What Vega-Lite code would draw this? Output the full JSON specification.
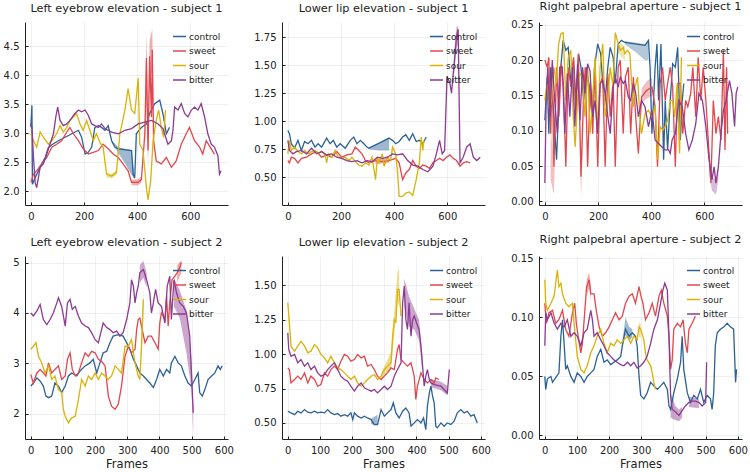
{
"$schema": "https://vega.github.io/schema/vega-lite/v6.json",
"background": "white",
"padding": {"left": 3, "top": 0, "right": 5, "bottom": 2},
"config": {
 "view": {"stroke": null},
 "font": "DejaVu Sans",
 "axis": {"domainColor": "#222", "domainWidth": 1, "tickColor": "#222", "tickSize": -3, "labelPadding": 9, "gridColor": "#000", "gridOpacity": 0.1, "gridWidth": 0.6, "labelFont": "DejaVu Sans", "labelFontSize": 10, "labelColor": "#222", "titleFont": "DejaVu Sans", "titleFontSize": 11.5, "titleFontWeight": "normal", "titleColor": "#222", "titlePadding": 3},
 "title": {"font": "DejaVu Sans", "fontSize": 11.3, "fontWeight": "normal", "color": "#222", "offset": 8},
 "legend": {"orient": "top-right", "offset": 7, "labelFont": "DejaVu Sans", "labelFontSize": 9, "labelColor": "#222", "symbolType": "stroke", "symbolSize": 170, "symbolStrokeWidth": 1.5, "rowPadding": 1.5, "padding": 0, "labelOffset": 2}
},
"datasets": {
"p1": [
{"c":"control","x":0,"y":3.1},{"c":"control","x":4,"y":3.48},{"c":"control","x":6,"y":2.12},{"c":"control","x":16,"y":2.23},{"c":"control","x":41,"y":2.47},{"c":"control","x":54,"y":2.58},{"c":"control","x":66,"y":2.75},{"c":"control","x":79,"y":2.8},{"c":"control","x":104,"y":2.87},{"c":"control","x":129,"y":2.93},{"c":"control","x":154,"y":2.99},{"c":"control","x":179,"y":3.05},{"c":"control","x":191,"y":2.93},{"c":"control","x":204,"y":2.64},{"c":"control","x":216,"y":2.67},{"c":"control","x":229,"y":2.76},{"c":"control","x":241,"y":3.1},{"c":"control","x":254,"y":3.13},{"c":"control","x":266,"y":3.1},{"c":"control","x":279,"y":3.05},{"c":"control","x":291,"y":3.13},{"c":"control","x":304,"y":2.87},{"c":"control","x":316,"y":2.76},{"c":"control","x":329,"y":2.73},{"c":"control","x":379,"y":2.7},{"c":"control","x":385,"y":2.29},{"c":"control","x":391,"y":2.23},{"c":"control","x":397,"y":2.99},{"c":"control","x":416,"y":3.1},{"c":"control","x":435,"y":3.16},{"c":"control","x":447,"y":3.34},{"c":"control","x":466,"y":3.51},{"c":"control","x":485,"y":3.57},{"c":"control","x":497,"y":3.34},{"c":"control","x":510,"y":2.99},{"c":"control","x":522,"y":3.1},
{"c":"sweet","x":0,"y":2.15},{"c":"sweet","x":10,"y":2.29},{"c":"sweet","x":22,"y":2.35},{"c":"sweet","x":41,"y":2.47},{"c":"sweet","x":60,"y":2.58},{"c":"sweet","x":79,"y":2.76},{"c":"sweet","x":97,"y":2.81},{"c":"sweet","x":116,"y":2.87},{"c":"sweet","x":135,"y":3.02},{"c":"sweet","x":147,"y":3.1},{"c":"sweet","x":160,"y":2.99},{"c":"sweet","x":179,"y":2.87},{"c":"sweet","x":197,"y":2.73},{"c":"sweet","x":216,"y":2.64},{"c":"sweet","x":235,"y":2.67},{"c":"sweet","x":254,"y":2.7},{"c":"sweet","x":272,"y":2.81},{"c":"sweet","x":291,"y":2.73},{"c":"sweet","x":310,"y":2.64},{"c":"sweet","x":329,"y":2.58},{"c":"sweet","x":347,"y":2.47},{"c":"sweet","x":366,"y":2.35},{"c":"sweet","x":379,"y":2.15},{"c":"sweet","x":404,"y":2.15},{"c":"sweet","x":416,"y":2.2},{"c":"sweet","x":429,"y":2.99},{"c":"sweet","x":435,"y":4.3},{"c":"sweet","x":441,"y":2.7},{"c":"sweet","x":447,"y":4.33},{"c":"sweet","x":454,"y":3.28},{"c":"sweet","x":457,"y":4.44},{"c":"sweet","x":462,"y":2.87},{"c":"sweet","x":472,"y":2.52},{"c":"sweet","x":491,"y":2.47},{"c":"sweet","x":510,"y":2.58},{"c":"sweet","x":529,"y":2.41},{"c":"sweet","x":547,"y":2.52},{"c":"sweet","x":566,"y":2.81},{"c":"sweet","x":585,"y":2.99},{"c":"sweet","x":597,"y":3.1},{"c":"sweet","x":616,"y":2.87},{"c":"sweet","x":635,"y":2.76},{"c":"sweet","x":647,"y":2.64},{"c":"sweet","x":660,"y":2.87},{"c":"sweet","x":679,"y":2.73},{"c":"sweet","x":691,"y":2.64},
{"c":"sour","x":0,"y":2.99},{"c":"sour","x":10,"y":2.87},{"c":"sour","x":22,"y":2.76},{"c":"sour","x":35,"y":3.02},{"c":"sour","x":47,"y":2.93},{"c":"sour","x":66,"y":2.81},{"c":"sour","x":79,"y":2.87},{"c":"sour","x":97,"y":2.99},{"c":"sour","x":110,"y":3.13},{"c":"sour","x":122,"y":3.02},{"c":"sour","x":135,"y":3.1},{"c":"sour","x":147,"y":3.22},{"c":"sour","x":160,"y":3.28},{"c":"sour","x":172,"y":3.34},{"c":"sour","x":185,"y":3.16},{"c":"sour","x":197,"y":3.05},{"c":"sour","x":210,"y":3.22},{"c":"sour","x":222,"y":3.05},{"c":"sour","x":235,"y":2.87},{"c":"sour","x":247,"y":2.99},{"c":"sour","x":260,"y":2.84},{"c":"sour","x":272,"y":2.76},{"c":"sour","x":285,"y":2.29},{"c":"sour","x":304,"y":2.26},{"c":"sour","x":322,"y":2.32},{"c":"sour","x":335,"y":2.99},{"c":"sour","x":354,"y":3.4},{"c":"sour","x":366,"y":3.77},{"c":"sour","x":379,"y":3.4},{"c":"sour","x":391,"y":3.34},{"c":"sour","x":404,"y":3.95},{"c":"sour","x":410,"y":2.81},{"c":"sour","x":422,"y":2.7},{"c":"sour","x":435,"y":2.06},{"c":"sour","x":441,"y":1.85},{"c":"sour","x":451,"y":2.17},{"c":"sour","x":460,"y":2.87},{"c":"sour","x":472,"y":3.22},{"c":"sour","x":481,"y":3.4},{"c":"sour","x":491,"y":3.1},{"c":"sour","x":500,"y":2.93},{"c":"sour","x":507,"y":3.4},
{"c":"bitter","x":0,"y":3.16},{"c":"bitter","x":4,"y":3.1},{"c":"bitter","x":10,"y":2.58},{"c":"bitter","x":16,"y":2.15},{"c":"bitter","x":22,"y":2.06},{"c":"bitter","x":35,"y":2.41},{"c":"bitter","x":47,"y":2.47},{"c":"bitter","x":60,"y":2.64},{"c":"bitter","x":72,"y":2.81},{"c":"bitter","x":85,"y":2.99},{"c":"bitter","x":94,"y":3.28},{"c":"bitter","x":101,"y":3.45},{"c":"bitter","x":110,"y":3.22},{"c":"bitter","x":122,"y":3.13},{"c":"bitter","x":135,"y":3.16},{"c":"bitter","x":147,"y":3.22},{"c":"bitter","x":166,"y":3.34},{"c":"bitter","x":179,"y":3.4},{"c":"bitter","x":191,"y":3.37},{"c":"bitter","x":204,"y":3.4},{"c":"bitter","x":216,"y":3.31},{"c":"bitter","x":229,"y":3.16},{"c":"bitter","x":241,"y":3.13},{"c":"bitter","x":254,"y":3.1},{"c":"bitter","x":266,"y":3.16},{"c":"bitter","x":279,"y":3.08},{"c":"bitter","x":304,"y":3.02},{"c":"bitter","x":329,"y":2.99},{"c":"bitter","x":354,"y":3.05},{"c":"bitter","x":379,"y":3.08},{"c":"bitter","x":404,"y":3.16},{"c":"bitter","x":429,"y":3.19},{"c":"bitter","x":454,"y":3.22},{"c":"bitter","x":479,"y":3.16},{"c":"bitter","x":497,"y":3.08},{"c":"bitter","x":516,"y":2.81},{"c":"bitter","x":529,"y":2.87},{"c":"bitter","x":535,"y":3.05},{"c":"bitter","x":541,"y":3.45},{"c":"bitter","x":554,"y":3.4},{"c":"bitter","x":566,"y":3.51},{"c":"bitter","x":579,"y":3.34},{"c":"bitter","x":591,"y":3.28},{"c":"bitter","x":604,"y":3.4},{"c":"bitter","x":616,"y":3.45},{"c":"bitter","x":629,"y":3.4},{"c":"bitter","x":641,"y":3.51},{"c":"bitter","x":654,"y":3.28},{"c":"bitter","x":666,"y":2.99},{"c":"bitter","x":679,"y":2.81},{"c":"bitter","x":691,"y":2.76},{"c":"bitter","x":704,"y":2.61},{"c":"bitter","x":710,"y":2.29},{"c":"bitter","x":716,"y":2.35}
],
"r1": [
{"c":"control","g":"a","x":304,"lo":2.85,"hi":2.88},{"c":"control","g":"a","x":329,"lo":2.66,"hi":2.76},{"c":"control","g":"a","x":354,"lo":2.48,"hi":2.73},{"c":"control","g":"a","x":379,"lo":2.28,"hi":2.71},{"c":"control","g":"a","x":391,"lo":2.2,"hi":2.26},
{"c":"sweet","g":"b","x":379,"lo":2.1,"hi":2.2},{"c":"sweet","g":"b","x":404,"lo":2.1,"hi":2.2},{"c":"sweet","g":"b","x":416,"lo":2.15,"hi":2.25},
{"c":"sweet","g":"c","x":429,"lo":2.7,"hi":3.2},{"c":"sweet","g":"c","x":435,"lo":3.6,"hi":4.75},{"c":"sweet","g":"c","x":441,"lo":2.4,"hi":3.1},{"c":"sweet","g":"c","x":447,"lo":3.9,"hi":4.6},{"c":"sweet","g":"c","x":457,"lo":4.1,"hi":4.8},{"c":"sweet","g":"c","x":462,"lo":2.6,"hi":3.1},
{"c":"sour","g":"d","x":285,"lo":2.24,"hi":2.32},{"c":"sour","g":"d","x":304,"lo":2.22,"hi":2.3},{"c":"sour","g":"d","x":322,"lo":2.28,"hi":2.36}
],
"p2": [
{"c":"control","x":0,"y":0.92},{"c":"control","x":6,"y":0.89},{"c":"control","x":13,"y":0.8},{"c":"control","x":25,"y":0.76},{"c":"control","x":38,"y":0.83},{"c":"control","x":51,"y":0.74},{"c":"control","x":63,"y":0.82},{"c":"control","x":76,"y":0.8},{"c":"control","x":89,"y":0.83},{"c":"control","x":102,"y":0.77},{"c":"control","x":114,"y":0.8},{"c":"control","x":127,"y":0.77},{"c":"control","x":146,"y":0.85},{"c":"control","x":159,"y":0.8},{"c":"control","x":171,"y":0.83},{"c":"control","x":184,"y":0.77},{"c":"control","x":197,"y":0.8},{"c":"control","x":216,"y":0.76},{"c":"control","x":235,"y":0.83},{"c":"control","x":248,"y":0.86},{"c":"control","x":260,"y":0.8},{"c":"control","x":273,"y":0.83},{"c":"control","x":286,"y":0.8},{"c":"control","x":298,"y":0.77},{"c":"control","x":305,"y":0.76},{"c":"control","x":381,"y":0.85},{"c":"control","x":394,"y":0.83},{"c":"control","x":406,"y":0.8},{"c":"control","x":419,"y":0.82},{"c":"control","x":432,"y":0.86},{"c":"control","x":444,"y":0.88},{"c":"control","x":457,"y":0.83},{"c":"control","x":470,"y":0.89},{"c":"control","x":483,"y":0.82},{"c":"control","x":495,"y":0.83},{"c":"control","x":508,"y":0.8},{"c":"control","x":521,"y":0.86},
{"c":"sweet","x":0,"y":0.65},{"c":"sweet","x":6,"y":0.63},{"c":"sweet","x":13,"y":0.68},{"c":"sweet","x":25,"y":0.67},{"c":"sweet","x":38,"y":0.63},{"c":"sweet","x":51,"y":0.67},{"c":"sweet","x":70,"y":0.68},{"c":"sweet","x":89,"y":0.71},{"c":"sweet","x":108,"y":0.73},{"c":"sweet","x":127,"y":0.68},{"c":"sweet","x":146,"y":0.7},{"c":"sweet","x":165,"y":0.68},{"c":"sweet","x":184,"y":0.73},{"c":"sweet","x":203,"y":0.68},{"c":"sweet","x":222,"y":0.7},{"c":"sweet","x":241,"y":0.71},{"c":"sweet","x":254,"y":0.77},{"c":"sweet","x":267,"y":0.74},{"c":"sweet","x":279,"y":0.71},{"c":"sweet","x":292,"y":0.65},{"c":"sweet","x":305,"y":0.63},{"c":"sweet","x":330,"y":0.65},{"c":"sweet","x":356,"y":0.64},{"c":"sweet","x":381,"y":0.65},{"c":"sweet","x":406,"y":0.67},{"c":"sweet","x":419,"y":0.63},{"c":"sweet","x":432,"y":0.48},{"c":"sweet","x":444,"y":0.54},{"c":"sweet","x":457,"y":0.57},{"c":"sweet","x":470,"y":0.65},{"c":"sweet","x":483,"y":0.6},{"c":"sweet","x":495,"y":0.58},{"c":"sweet","x":508,"y":0.61},{"c":"sweet","x":521,"y":0.6},{"c":"sweet","x":533,"y":0.58},{"c":"sweet","x":546,"y":0.63},{"c":"sweet","x":559,"y":0.65},{"c":"sweet","x":571,"y":0.67},{"c":"sweet","x":584,"y":0.65},{"c":"sweet","x":597,"y":0.68},{"c":"sweet","x":610,"y":0.7},{"c":"sweet","x":622,"y":0.67},{"c":"sweet","x":635,"y":0.65},{"c":"sweet","x":648,"y":0.6},{"c":"sweet","x":660,"y":0.63},{"c":"sweet","x":673,"y":0.64},{"c":"sweet","x":686,"y":0.63},
{"c":"sour","x":0,"y":0.71},{"c":"sour","x":6,"y":0.83},{"c":"sour","x":13,"y":0.74},{"c":"sour","x":25,"y":0.77},{"c":"sour","x":38,"y":0.73},{"c":"sour","x":51,"y":0.71},{"c":"sour","x":63,"y":0.74},{"c":"sour","x":76,"y":0.71},{"c":"sour","x":89,"y":0.73},{"c":"sour","x":102,"y":0.74},{"c":"sour","x":114,"y":0.71},{"c":"sour","x":127,"y":0.73},{"c":"sour","x":140,"y":0.71},{"c":"sour","x":146,"y":0.63},{"c":"sour","x":152,"y":0.71},{"c":"sour","x":165,"y":0.68},{"c":"sour","x":178,"y":0.74},{"c":"sour","x":190,"y":0.68},{"c":"sour","x":203,"y":0.67},{"c":"sour","x":216,"y":0.68},{"c":"sour","x":229,"y":0.65},{"c":"sour","x":241,"y":0.68},{"c":"sour","x":254,"y":0.64},{"c":"sour","x":267,"y":0.61},{"c":"sour","x":279,"y":0.6},{"c":"sour","x":292,"y":0.63},{"c":"sour","x":305,"y":0.61},{"c":"sour","x":317,"y":0.68},{"c":"sour","x":330,"y":0.48},{"c":"sour","x":337,"y":0.68},{"c":"sour","x":343,"y":0.63},{"c":"sour","x":356,"y":0.71},{"c":"sour","x":362,"y":0.6},{"c":"sour","x":375,"y":0.68},{"c":"sour","x":387,"y":0.65},{"c":"sour","x":394,"y":0.77},{"c":"sour","x":406,"y":0.71},{"c":"sour","x":413,"y":0.54},{"c":"sour","x":419,"y":0.33},{"c":"sour","x":432,"y":0.33},{"c":"sour","x":444,"y":0.36},{"c":"sour","x":457,"y":0.37},{"c":"sour","x":470,"y":0.34},{"c":"sour","x":483,"y":0.48},{"c":"sour","x":495,"y":0.63},{"c":"sour","x":502,"y":0.86},{"c":"sour","x":508,"y":0.74},{"c":"sour","x":512,"y":0.83},
{"c":"bitter","x":0,"y":0.83},{"c":"bitter","x":6,"y":0.74},{"c":"bitter","x":19,"y":0.71},{"c":"bitter","x":32,"y":0.73},{"c":"bitter","x":51,"y":0.74},{"c":"bitter","x":70,"y":0.71},{"c":"bitter","x":89,"y":0.76},{"c":"bitter","x":108,"y":0.71},{"c":"bitter","x":127,"y":0.73},{"c":"bitter","x":146,"y":0.7},{"c":"bitter","x":165,"y":0.71},{"c":"bitter","x":184,"y":0.68},{"c":"bitter","x":203,"y":0.67},{"c":"bitter","x":222,"y":0.65},{"c":"bitter","x":241,"y":0.64},{"c":"bitter","x":260,"y":0.65},{"c":"bitter","x":279,"y":0.63},{"c":"bitter","x":298,"y":0.65},{"c":"bitter","x":317,"y":0.64},{"c":"bitter","x":337,"y":0.68},{"c":"bitter","x":356,"y":0.67},{"c":"bitter","x":375,"y":0.68},{"c":"bitter","x":394,"y":0.71},{"c":"bitter","x":413,"y":0.7},{"c":"bitter","x":432,"y":0.71},{"c":"bitter","x":451,"y":0.65},{"c":"bitter","x":470,"y":0.61},{"c":"bitter","x":489,"y":0.6},{"c":"bitter","x":508,"y":0.57},{"c":"bitter","x":527,"y":0.55},{"c":"bitter","x":546,"y":0.6},{"c":"bitter","x":559,"y":0.71},{"c":"bitter","x":571,"y":0.83},{"c":"bitter","x":581,"y":0.71},{"c":"bitter","x":590,"y":0.74},{"c":"bitter","x":599,"y":1.4},{"c":"bitter","x":610,"y":1.34},{"c":"bitter","x":616,"y":1.25},{"c":"bitter","x":625,"y":1.49},{"c":"bitter","x":635,"y":1.76},{"c":"bitter","x":641,"y":1.82},{"c":"bitter","x":648,"y":0.63},{"c":"bitter","x":660,"y":0.68},{"c":"bitter","x":673,"y":0.77},{"c":"bitter","x":686,"y":0.8},{"c":"bitter","x":698,"y":0.68},{"c":"bitter","x":711,"y":0.65},{"c":"bitter","x":724,"y":0.68}
],
"r2": [
{"c":"control","g":"a","x":305,"lo":0.75,"hi":0.77},{"c":"control","g":"a","x":343,"lo":0.74,"hi":0.81},{"c":"control","g":"a","x":381,"lo":0.74,"hi":0.86},
{"c":"sweet","g":"b","x":330,"lo":0.62,"hi":0.67},{"c":"sweet","g":"b","x":381,"lo":0.63,"hi":0.67},
{"c":"bitter","g":"c","x":625,"lo":1.4,"hi":1.6},{"c":"bitter","g":"c","x":635,"lo":1.65,"hi":1.84},{"c":"bitter","g":"c","x":641,"lo":1.7,"hi":1.85}
],
"p3": [
{"c":"control","x":0,"y":0.115},{"c":"control","x":9,"y":0.176},{"c":"control","x":15,"y":0.096},{"c":"control","x":22,"y":0.19},{"c":"control","x":34,"y":0.12},{"c":"control","x":44,"y":0.059},{"c":"control","x":53,"y":0.143},{"c":"control","x":60,"y":0.19},{"c":"control","x":69,"y":0.228},{"c":"control","x":79,"y":0.214},{"c":"control","x":88,"y":0.218},{"c":"control","x":98,"y":0.167},{"c":"control","x":108,"y":0.2},{"c":"control","x":117,"y":0.143},{"c":"control","x":127,"y":0.209},{"c":"control","x":136,"y":0.19},{"c":"control","x":146,"y":0.143},{"c":"control","x":155,"y":0.19},{"c":"control","x":168,"y":0.162},{"c":"control","x":178,"y":0.12},{"c":"control","x":187,"y":0.19},{"c":"control","x":199,"y":0.223},{"c":"control","x":210,"y":0.209},{"c":"control","x":218,"y":0.167},{"c":"control","x":227,"y":0.143},{"c":"control","x":237,"y":0.19},{"c":"control","x":246,"y":0.218},{"c":"control","x":257,"y":0.204},{"c":"control","x":265,"y":0.167},{"c":"control","x":276,"y":0.223},{"c":"control","x":288,"y":0.228},{"c":"control","x":301,"y":0.225},{"c":"control","x":377,"y":0.221},{"c":"control","x":390,"y":0.228},{"c":"control","x":396,"y":0.19},{"c":"control","x":403,"y":0.096},{"c":"control","x":409,"y":0.143},{"c":"control","x":415,"y":0.19},{"c":"control","x":422,"y":0.223},{"c":"control","x":428,"y":0.143},{"c":"control","x":437,"y":0.223},{"c":"control","x":447,"y":0.059},{"c":"control","x":453,"y":0.143},{"c":"control","x":462,"y":0.073},{"c":"control","x":472,"y":0.143},{"c":"control","x":481,"y":0.195},{"c":"control","x":491,"y":0.19},{"c":"control","x":500,"y":0.218},{"c":"control","x":510,"y":0.087},{"c":"control","x":517,"y":0.143},{"c":"control","x":523,"y":0.167},
{"c":"sweet","x":0,"y":0.2},{"c":"sweet","x":9,"y":0.19},{"c":"sweet","x":15,"y":0.204},{"c":"sweet","x":22,"y":0.096},{"c":"sweet","x":28,"y":0.19},{"c":"sweet","x":34,"y":0.049},{"c":"sweet","x":44,"y":0.19},{"c":"sweet","x":53,"y":0.12},{"c":"sweet","x":62,"y":0.195},{"c":"sweet","x":70,"y":0.162},{"c":"sweet","x":79,"y":0.049},{"c":"sweet","x":88,"y":0.19},{"c":"sweet","x":98,"y":0.162},{"c":"sweet","x":108,"y":0.204},{"c":"sweet","x":117,"y":0.12},{"c":"sweet","x":126,"y":0.209},{"c":"sweet","x":136,"y":0.035},{"c":"sweet","x":145,"y":0.143},{"c":"sweet","x":152,"y":0.19},{"c":"sweet","x":161,"y":0.049},{"c":"sweet","x":171,"y":0.167},{"c":"sweet","x":180,"y":0.096},{"c":"sweet","x":189,"y":0.19},{"c":"sweet","x":199,"y":0.049},{"c":"sweet","x":208,"y":0.167},{"c":"sweet","x":218,"y":0.176},{"c":"sweet","x":227,"y":0.049},{"c":"sweet","x":237,"y":0.181},{"c":"sweet","x":246,"y":0.12},{"c":"sweet","x":257,"y":0.171},{"c":"sweet","x":265,"y":0.049},{"c":"sweet","x":276,"y":0.19},{"c":"sweet","x":284,"y":0.2},{"c":"sweet","x":295,"y":0.096},{"c":"sweet","x":303,"y":0.176},{"c":"sweet","x":314,"y":0.19},{"c":"sweet","x":323,"y":0.096},{"c":"sweet","x":333,"y":0.176},{"c":"sweet","x":342,"y":0.12},{"c":"sweet","x":352,"y":0.068},{"c":"sweet","x":364,"y":0.148},{"c":"sweet","x":383,"y":0.157},{"c":"sweet","x":403,"y":0.162},{"c":"sweet","x":415,"y":0.134},{"c":"sweet","x":424,"y":0.049},{"c":"sweet","x":434,"y":0.167},{"c":"sweet","x":443,"y":0.19},{"c":"sweet","x":453,"y":0.143},{"c":"sweet","x":462,"y":0.167},{"c":"sweet","x":472,"y":0.19},{"c":"sweet","x":481,"y":0.162},{"c":"sweet","x":491,"y":0.049},{"c":"sweet","x":500,"y":0.167},{"c":"sweet","x":510,"y":0.167},{"c":"sweet","x":519,"y":0.096},{"c":"sweet","x":530,"y":0.143},{"c":"sweet","x":538,"y":0.134},{"c":"sweet","x":549,"y":0.153},{"c":"sweet","x":557,"y":0.19},{"c":"sweet","x":568,"y":0.12},{"c":"sweet","x":577,"y":0.204},{"c":"sweet","x":587,"y":0.143},{"c":"sweet","x":596,"y":0.19},{"c":"sweet","x":606,"y":0.143},{"c":"sweet","x":615,"y":0.087},{"c":"sweet","x":625,"y":0.026},{"c":"sweet","x":634,"y":0.143},{"c":"sweet","x":644,"y":0.096},{"c":"sweet","x":653,"y":0.12},{"c":"sweet","x":663,"y":0.087},{"c":"sweet","x":672,"y":0.214},{"c":"sweet","x":678,"y":0.073},{"c":"sweet","x":684,"y":0.19},{"c":"sweet","x":688,"y":0.096},
{"c":"sour","x":0,"y":0.143},{"c":"sour","x":9,"y":0.167},{"c":"sour","x":18,"y":0.129},{"c":"sour","x":25,"y":0.143},{"c":"sour","x":34,"y":0.19},{"c":"sour","x":43,"y":0.167},{"c":"sour","x":52,"y":0.223},{"c":"sour","x":60,"y":0.237},{"c":"sour","x":69,"y":0.239},{"c":"sour","x":79,"y":0.143},{"c":"sour","x":88,"y":0.204},{"c":"sour","x":98,"y":0.214},{"c":"sour","x":107,"y":0.12},{"c":"sour","x":114,"y":0.077},{"c":"sour","x":123,"y":0.143},{"c":"sour","x":132,"y":0.181},{"c":"sour","x":142,"y":0.176},{"c":"sour","x":151,"y":0.12},{"c":"sour","x":161,"y":0.19},{"c":"sour","x":170,"y":0.096},{"c":"sour","x":180,"y":0.143},{"c":"sour","x":189,"y":0.204},{"c":"sour","x":199,"y":0.096},{"c":"sour","x":208,"y":0.19},{"c":"sour","x":218,"y":0.223},{"c":"sour","x":227,"y":0.12},{"c":"sour","x":237,"y":0.143},{"c":"sour","x":246,"y":0.19},{"c":"sour","x":257,"y":0.162},{"c":"sour","x":265,"y":0.239},{"c":"sour","x":276,"y":0.223},{"c":"sour","x":284,"y":0.214},{"c":"sour","x":295,"y":0.218},{"c":"sour","x":301,"y":0.209},{"c":"sour","x":310,"y":0.214},{"c":"sour","x":320,"y":0.209},{"c":"sour","x":326,"y":0.171},{"c":"sour","x":333,"y":0.134},{"c":"sour","x":339,"y":0.162},{"c":"sour","x":349,"y":0.176},{"c":"sour","x":358,"y":0.12},{"c":"sour","x":364,"y":0.096},{"c":"sour","x":377,"y":0.124},{"c":"sour","x":390,"y":0.129},{"c":"sour","x":403,"y":0.12},{"c":"sour","x":415,"y":0.134},{"c":"sour","x":425,"y":0.059},{"c":"sour","x":434,"y":0.106},{"c":"sour","x":443,"y":0.101},{"c":"sour","x":453,"y":0.106},{"c":"sour","x":462,"y":0.115},{"c":"sour","x":472,"y":0.143},{"c":"sour","x":481,"y":0.143},{"c":"sour","x":489,"y":0.12},{"c":"sour","x":498,"y":0.167},{"c":"sour","x":507,"y":0.068},{"c":"sour","x":514,"y":0.204},
{"c":"bitter","x":0,"y":0.026},{"c":"bitter","x":5,"y":0.143},{"c":"bitter","x":11,"y":0.19},{"c":"bitter","x":19,"y":0.12},{"c":"bitter","x":28,"y":0.2},{"c":"bitter","x":37,"y":0.143},{"c":"bitter","x":47,"y":0.096},{"c":"bitter","x":56,"y":0.19},{"c":"bitter","x":66,"y":0.19},{"c":"bitter","x":75,"y":0.096},{"c":"bitter","x":85,"y":0.181},{"c":"bitter","x":94,"y":0.12},{"c":"bitter","x":104,"y":0.19},{"c":"bitter","x":113,"y":0.106},{"c":"bitter","x":123,"y":0.195},{"c":"bitter","x":132,"y":0.115},{"c":"bitter","x":142,"y":0.19},{"c":"bitter","x":151,"y":0.153},{"c":"bitter","x":161,"y":0.195},{"c":"bitter","x":170,"y":0.185},{"c":"bitter","x":180,"y":0.12},{"c":"bitter","x":189,"y":0.143},{"c":"bitter","x":199,"y":0.096},{"c":"bitter","x":208,"y":0.167},{"c":"bitter","x":218,"y":0.171},{"c":"bitter","x":227,"y":0.153},{"c":"bitter","x":237,"y":0.12},{"c":"bitter","x":246,"y":0.096},{"c":"bitter","x":257,"y":0.162},{"c":"bitter","x":265,"y":0.176},{"c":"bitter","x":276,"y":0.162},{"c":"bitter","x":284,"y":0.176},{"c":"bitter","x":295,"y":0.167},{"c":"bitter","x":303,"y":0.171},{"c":"bitter","x":314,"y":0.148},{"c":"bitter","x":323,"y":0.143},{"c":"bitter","x":333,"y":0.167},{"c":"bitter","x":342,"y":0.153},{"c":"bitter","x":352,"y":0.12},{"c":"bitter","x":364,"y":0.143},{"c":"bitter","x":377,"y":0.134},{"c":"bitter","x":390,"y":0.106},{"c":"bitter","x":403,"y":0.129},{"c":"bitter","x":415,"y":0.087},{"c":"bitter","x":428,"y":0.082},{"c":"bitter","x":441,"y":0.077},{"c":"bitter","x":453,"y":0.073},{"c":"bitter","x":466,"y":0.073},{"c":"bitter","x":472,"y":0.068},{"c":"bitter","x":479,"y":0.087},{"c":"bitter","x":491,"y":0.096},{"c":"bitter","x":504,"y":0.143},{"c":"bitter","x":517,"y":0.134},{"c":"bitter","x":530,"y":0.096},{"c":"bitter","x":542,"y":0.073},{"c":"bitter","x":555,"y":0.087},{"c":"bitter","x":568,"y":0.11},{"c":"bitter","x":580,"y":0.153},{"c":"bitter","x":593,"y":0.143},{"c":"bitter","x":606,"y":0.106},{"c":"bitter","x":618,"y":0.059},{"c":"bitter","x":629,"y":0.031},{"c":"bitter","x":637,"y":0.049},{"c":"bitter","x":644,"y":0.026},{"c":"bitter","x":653,"y":0.049},{"c":"bitter","x":663,"y":0.096},{"c":"bitter","x":672,"y":0.129},{"c":"bitter","x":682,"y":0.143},{"c":"bitter","x":695,"y":0.171},{"c":"bitter","x":704,"y":0.153},{"c":"bitter","x":714,"y":0.106},{"c":"bitter","x":720,"y":0.153},{"c":"bitter","x":726,"y":0.162}
],
"r3": [
{"c":"control","g":"a","x":301,"lo":0.222,"hi":0.227},{"c":"control","g":"a","x":340,"lo":0.212,"hi":0.225},{"c":"control","g":"a","x":377,"lo":0.2,"hi":0.223},{"c":"control","g":"a","x":390,"lo":0.2,"hi":0.229},
{"c":"sweet","g":"b","x":364,"lo":0.14,"hi":0.16},{"c":"sweet","g":"b","x":383,"lo":0.145,"hi":0.17},{"c":"sweet","g":"b","x":403,"lo":0.15,"hi":0.175},
{"c":"sour","g":"c","x":276,"lo":0.21,"hi":0.226},{"c":"sour","g":"c","x":301,"lo":0.2,"hi":0.22},
{"c":"sweet","g":"d","x":22,"lo":0.03,"hi":0.1},{"c":"sweet","g":"d","x":34,"lo":0.01,"hi":0.06},{"c":"sweet","g":"d","x":44,"lo":0.15,"hi":0.19},
{"c":"sweet","g":"e","x":130,"lo":0.1,"hi":0.2},{"c":"sweet","g":"e","x":136,"lo":0.005,"hi":0.04},{"c":"sweet","g":"e","x":145,"lo":0.1,"hi":0.15},
{"c":"bitter","g":"f","x":618,"lo":0.04,"hi":0.06},{"c":"bitter","g":"f","x":629,"lo":0.015,"hi":0.035},{"c":"bitter","g":"f","x":644,"lo":0.01,"hi":0.03},{"c":"bitter","g":"f","x":653,"lo":0.03,"hi":0.05}
],
"p4": [
{"c":"control","x":0,"y":2.55},{"c":"control","x":8,"y":2.61},{"c":"control","x":19,"y":2.71},{"c":"control","x":29,"y":2.65},{"c":"control","x":39,"y":2.55},{"c":"control","x":47,"y":2.35},{"c":"control","x":55,"y":2.32},{"c":"control","x":65,"y":2.35},{"c":"control","x":75,"y":2.61},{"c":"control","x":86,"y":2.55},{"c":"control","x":96,"y":2.42},{"c":"control","x":107,"y":2.55},{"c":"control","x":117,"y":2.75},{"c":"control","x":127,"y":2.81},{"c":"control","x":143,"y":2.75},{"c":"control","x":153,"y":2.85},{"c":"control","x":169,"y":2.95},{"c":"control","x":184,"y":3.01},{"c":"control","x":194,"y":3.08},{"c":"control","x":205,"y":2.81},{"c":"control","x":215,"y":3.01},{"c":"control","x":225,"y":3.21},{"c":"control","x":236,"y":3.24},{"c":"control","x":246,"y":3.41},{"c":"control","x":256,"y":3.54},{"c":"control","x":272,"y":3.57},{"c":"control","x":287,"y":3.54},{"c":"control","x":298,"y":3.41},{"c":"control","x":308,"y":3.28},{"c":"control","x":319,"y":3.08},{"c":"control","x":329,"y":2.95},{"c":"control","x":339,"y":2.81},{"c":"control","x":350,"y":2.75},{"c":"control","x":360,"y":2.68},{"c":"control","x":370,"y":2.61},{"c":"control","x":381,"y":2.52},{"c":"control","x":391,"y":2.68},{"c":"control","x":401,"y":2.88},{"c":"control","x":412,"y":2.75},{"c":"control","x":422,"y":2.88},{"c":"control","x":432,"y":2.81},{"c":"control","x":437,"y":3.01},{"c":"control","x":448,"y":3.14},{"c":"control","x":458,"y":3.01},{"c":"control","x":468,"y":2.95},{"c":"control","x":479,"y":2.75},{"c":"control","x":489,"y":2.61},{"c":"control","x":499,"y":2.55},{"c":"control","x":510,"y":2.68},{"c":"control","x":520,"y":2.81},{"c":"control","x":525,"y":2.42},{"c":"control","x":533,"y":2.35},{"c":"control","x":541,"y":2.48},{"c":"control","x":551,"y":2.68},{"c":"control","x":562,"y":2.75},{"c":"control","x":572,"y":2.81},{"c":"control","x":582,"y":2.95},{"c":"control","x":589,"y":2.88},{"c":"control","x":595,"y":2.95},
{"c":"sweet","x":0,"y":2.78},{"c":"sweet","x":8,"y":2.61},{"c":"sweet","x":19,"y":2.81},{"c":"sweet","x":29,"y":2.88},{"c":"sweet","x":39,"y":2.81},{"c":"sweet","x":47,"y":2.75},{"c":"sweet","x":55,"y":3.01},{"c":"sweet","x":65,"y":2.81},{"c":"sweet","x":75,"y":2.88},{"c":"sweet","x":86,"y":2.95},{"c":"sweet","x":96,"y":2.68},{"c":"sweet","x":107,"y":2.75},{"c":"sweet","x":114,"y":3.08},{"c":"sweet","x":122,"y":3.21},{"c":"sweet","x":129,"y":2.88},{"c":"sweet","x":138,"y":2.75},{"c":"sweet","x":148,"y":2.81},{"c":"sweet","x":158,"y":3.01},{"c":"sweet","x":169,"y":3.21},{"c":"sweet","x":179,"y":3.14},{"c":"sweet","x":189,"y":3.24},{"c":"sweet","x":200,"y":3.21},{"c":"sweet","x":210,"y":3.08},{"c":"sweet","x":220,"y":3.04},{"c":"sweet","x":231,"y":2.95},{"c":"sweet","x":241,"y":2.35},{"c":"sweet","x":251,"y":2.15},{"c":"sweet","x":262,"y":2.09},{"c":"sweet","x":272,"y":2.19},{"c":"sweet","x":282,"y":2.55},{"c":"sweet","x":293,"y":3.14},{"c":"sweet","x":303,"y":3.34},{"c":"sweet","x":313,"y":3.21},{"c":"sweet","x":324,"y":3.28},{"c":"sweet","x":329,"y":3.67},{"c":"sweet","x":334,"y":3.87},{"c":"sweet","x":339,"y":3.9},{"c":"sweet","x":344,"y":3.74},{"c":"sweet","x":355,"y":3.41},{"c":"sweet","x":365,"y":3.54},{"c":"sweet","x":375,"y":3.54},{"c":"sweet","x":386,"y":3.41},{"c":"sweet","x":396,"y":3.28},{"c":"sweet","x":401,"y":3.8},{"c":"sweet","x":406,"y":4.0},{"c":"sweet","x":417,"y":3.87},{"c":"sweet","x":422,"y":4.33},{"c":"sweet","x":427,"y":3.74},{"c":"sweet","x":432,"y":4.2},{"c":"sweet","x":439,"y":4.66},{"c":"sweet","x":448,"y":4.73},{"c":"sweet","x":455,"y":4.8},{"c":"sweet","x":463,"y":4.9},{"c":"sweet","x":468,"y":5.0},
{"c":"sour","x":0,"y":3.28},{"c":"sour","x":8,"y":3.34},{"c":"sour","x":16,"y":3.41},{"c":"sour","x":24,"y":3.14},{"c":"sour","x":34,"y":3.01},{"c":"sour","x":44,"y":2.81},{"c":"sour","x":55,"y":2.95},{"c":"sour","x":65,"y":2.68},{"c":"sour","x":75,"y":2.75},{"c":"sour","x":86,"y":2.48},{"c":"sour","x":96,"y":2.42},{"c":"sour","x":101,"y":2.09},{"c":"sour","x":107,"y":1.95},{"c":"sour","x":117,"y":1.82},{"c":"sour","x":127,"y":1.92},{"c":"sour","x":138,"y":1.95},{"c":"sour","x":148,"y":2.28},{"c":"sour","x":158,"y":2.68},{"c":"sour","x":169,"y":2.55},{"c":"sour","x":179,"y":2.75},{"c":"sour","x":189,"y":2.68},{"c":"sour","x":200,"y":2.81},{"c":"sour","x":210,"y":2.68},{"c":"sour","x":220,"y":2.81},{"c":"sour","x":231,"y":2.75},{"c":"sour","x":241,"y":2.68},{"c":"sour","x":251,"y":2.75},{"c":"sour","x":262,"y":2.95},{"c":"sour","x":272,"y":2.88},{"c":"sour","x":282,"y":2.81},{"c":"sour","x":293,"y":3.34},{"c":"sour","x":303,"y":3.34},{"c":"sour","x":313,"y":3.47},{"c":"sour","x":324,"y":3.01},{"c":"sour","x":334,"y":2.75},{"c":"sour","x":339,"y":2.68},{"c":"sour","x":344,"y":3.34},{"c":"sour","x":350,"y":4.27},
{"c":"bitter","x":0,"y":4.0},{"c":"bitter","x":8,"y":3.94},{"c":"bitter","x":19,"y":4.04},{"c":"bitter","x":29,"y":4.17},{"c":"bitter","x":39,"y":3.87},{"c":"bitter","x":50,"y":3.77},{"c":"bitter","x":60,"y":3.87},{"c":"bitter","x":70,"y":4.0},{"c":"bitter","x":81,"y":4.2},{"c":"bitter","x":86,"y":4.3},{"c":"bitter","x":96,"y":4.13},{"c":"bitter","x":107,"y":3.74},{"c":"bitter","x":114,"y":4.2},{"c":"bitter","x":122,"y":4.27},{"c":"bitter","x":129,"y":4.07},{"c":"bitter","x":138,"y":4.13},{"c":"bitter","x":148,"y":3.94},{"c":"bitter","x":158,"y":3.8},{"c":"bitter","x":169,"y":3.74},{"c":"bitter","x":179,"y":3.71},{"c":"bitter","x":189,"y":3.61},{"c":"bitter","x":200,"y":3.47},{"c":"bitter","x":210,"y":3.41},{"c":"bitter","x":215,"y":3.54},{"c":"bitter","x":225,"y":3.8},{"c":"bitter","x":236,"y":3.71},{"c":"bitter","x":246,"y":3.67},{"c":"bitter","x":256,"y":3.61},{"c":"bitter","x":267,"y":3.64},{"c":"bitter","x":277,"y":3.54},{"c":"bitter","x":287,"y":3.61},{"c":"bitter","x":298,"y":3.87},{"c":"bitter","x":308,"y":4.2},{"c":"bitter","x":313,"y":4.66},{"c":"bitter","x":319,"y":4.53},{"c":"bitter","x":324,"y":4.2},{"c":"bitter","x":329,"y":4.4},{"c":"bitter","x":334,"y":4.53},{"c":"bitter","x":339,"y":4.8},{"c":"bitter","x":350,"y":4.86},{"c":"bitter","x":360,"y":4.66},{"c":"bitter","x":370,"y":4.4},{"c":"bitter","x":375,"y":4.0},{"c":"bitter","x":381,"y":4.2},{"c":"bitter","x":388,"y":4.47},{"c":"bitter","x":396,"y":4.2},{"c":"bitter","x":406,"y":4.13},{"c":"bitter","x":417,"y":3.8},{"c":"bitter","x":424,"y":4.53},{"c":"bitter","x":432,"y":4.73},{"c":"bitter","x":437,"y":3.87},{"c":"bitter","x":445,"y":4.66},{"c":"bitter","x":453,"y":4.4},{"c":"bitter","x":463,"y":4.2},{"c":"bitter","x":474,"y":4.13},{"c":"bitter","x":484,"y":4.0},{"c":"bitter","x":494,"y":3.54},{"c":"bitter","x":499,"y":2.88},{"c":"bitter","x":505,"y":2.02}
],
"r4": [
{"c":"bitter","g":"a","x":445,"lo":4.13,"hi":4.7},{"c":"bitter","g":"a","x":463,"lo":3.9,"hi":4.45},{"c":"bitter","g":"a","x":484,"lo":3.2,"hi":4.05},{"c":"bitter","g":"a","x":499,"lo":2.5,"hi":3.1},{"c":"bitter","g":"a","x":505,"lo":1.62,"hi":2.2},
{"c":"bitter","g":"b","x":339,"lo":4.6,"hi":4.95},{"c":"bitter","g":"b","x":350,"lo":4.7,"hi":5.03},{"c":"bitter","g":"b","x":360,"lo":4.5,"hi":4.8},
{"c":"sweet","g":"c","x":455,"lo":4.6,"hi":4.95},{"c":"sweet","g":"c","x":468,"lo":4.8,"hi":5.05},
{"c":"sour","g":"d","x":344,"lo":3.0,"hi":3.6},{"c":"sour","g":"d","x":350,"lo":3.9,"hi":4.5}
],
"p5": [
{"c":"control","x":0,"y":0.585},{"c":"control","x":10,"y":0.573},{"c":"control","x":21,"y":0.56},{"c":"control","x":31,"y":0.585},{"c":"control","x":41,"y":0.573},{"c":"control","x":52,"y":0.597},{"c":"control","x":62,"y":0.578},{"c":"control","x":72,"y":0.573},{"c":"control","x":83,"y":0.585},{"c":"control","x":93,"y":0.573},{"c":"control","x":103,"y":0.578},{"c":"control","x":114,"y":0.573},{"c":"control","x":124,"y":0.597},{"c":"control","x":134,"y":0.573},{"c":"control","x":145,"y":0.56},{"c":"control","x":155,"y":0.568},{"c":"control","x":165,"y":0.549},{"c":"control","x":176,"y":0.56},{"c":"control","x":186,"y":0.549},{"c":"control","x":196,"y":0.573},{"c":"control","x":202,"y":0.524},{"c":"control","x":207,"y":0.573},{"c":"control","x":217,"y":0.549},{"c":"control","x":228,"y":0.536},{"c":"control","x":238,"y":0.549},{"c":"control","x":248,"y":0.536},{"c":"control","x":259,"y":0.524},{"c":"control","x":269,"y":0.488},{"c":"control","x":279,"y":0.488},{"c":"control","x":290,"y":0.597},{"c":"control","x":300,"y":0.549},{"c":"control","x":310,"y":0.573},{"c":"control","x":321,"y":0.597},{"c":"control","x":328,"y":0.646},{"c":"control","x":336,"y":0.573},{"c":"control","x":346,"y":0.536},{"c":"control","x":357,"y":0.585},{"c":"control","x":367,"y":0.609},{"c":"control","x":377,"y":0.573},{"c":"control","x":383,"y":0.476},{"c":"control","x":393,"y":0.5},{"c":"control","x":403,"y":0.524},{"c":"control","x":414,"y":0.5},{"c":"control","x":422,"y":0.536},{"c":"control","x":429,"y":0.451},{"c":"control","x":434,"y":0.621},{"c":"control","x":440,"y":0.718},{"c":"control","x":445,"y":0.767},{"c":"control","x":450,"y":0.694},{"c":"control","x":455,"y":0.646},{"c":"control","x":460,"y":0.476},{"c":"control","x":465,"y":0.464},{"c":"control","x":476,"y":0.5},{"c":"control","x":486,"y":0.476},{"c":"control","x":496,"y":0.5},{"c":"control","x":507,"y":0.488},{"c":"control","x":517,"y":0.512},{"c":"control","x":527,"y":0.573},{"c":"control","x":538,"y":0.597},{"c":"control","x":548,"y":0.573},{"c":"control","x":558,"y":0.585},{"c":"control","x":569,"y":0.549},{"c":"control","x":579,"y":0.56},{"c":"control","x":589,"y":0.5},
{"c":"sweet","x":0,"y":0.9},{"c":"sweet","x":5,"y":0.888},{"c":"sweet","x":10,"y":0.791},{"c":"sweet","x":21,"y":0.816},{"c":"sweet","x":31,"y":0.84},{"c":"sweet","x":41,"y":0.816},{"c":"sweet","x":52,"y":0.864},{"c":"sweet","x":62,"y":0.791},{"c":"sweet","x":72,"y":0.84},{"c":"sweet","x":83,"y":0.816},{"c":"sweet","x":93,"y":0.767},{"c":"sweet","x":103,"y":0.779},{"c":"sweet","x":114,"y":0.864},{"c":"sweet","x":124,"y":0.84},{"c":"sweet","x":134,"y":0.888},{"c":"sweet","x":145,"y":0.913},{"c":"sweet","x":155,"y":0.888},{"c":"sweet","x":165,"y":0.949},{"c":"sweet","x":176,"y":0.998},{"c":"sweet","x":186,"y":0.985},{"c":"sweet","x":196,"y":0.949},{"c":"sweet","x":207,"y":0.961},{"c":"sweet","x":217,"y":0.998},{"c":"sweet","x":228,"y":0.973},{"c":"sweet","x":238,"y":0.985},{"c":"sweet","x":248,"y":0.913},{"c":"sweet","x":259,"y":0.925},{"c":"sweet","x":269,"y":0.888},{"c":"sweet","x":279,"y":0.84},{"c":"sweet","x":290,"y":0.816},{"c":"sweet","x":300,"y":0.84},{"c":"sweet","x":310,"y":0.864},{"c":"sweet","x":321,"y":0.9},{"c":"sweet","x":331,"y":0.888},{"c":"sweet","x":341,"y":1.034},{"c":"sweet","x":346,"y":1.07},{"c":"sweet","x":352,"y":0.961},{"c":"sweet","x":362,"y":0.937},{"c":"sweet","x":372,"y":0.913},{"c":"sweet","x":383,"y":0.937},{"c":"sweet","x":393,"y":0.84},{"c":"sweet","x":398,"y":0.67},{"c":"sweet","x":403,"y":0.767},{"c":"sweet","x":414,"y":0.864},{"c":"sweet","x":424,"y":0.816},{"c":"sweet","x":434,"y":0.791},{"c":"sweet","x":445,"y":0.816},{"c":"sweet","x":455,"y":0.791},{"c":"sweet","x":460,"y":0.828},{"c":"sweet","x":470,"y":0.816},
{"c":"sour","x":0,"y":1.374},{"c":"sour","x":5,"y":1.228},{"c":"sour","x":10,"y":1.058},{"c":"sour","x":21,"y":1.022},{"c":"sour","x":31,"y":1.058},{"c":"sour","x":41,"y":1.095},{"c":"sour","x":52,"y":1.058},{"c":"sour","x":62,"y":1.01},{"c":"sour","x":72,"y":1.022},{"c":"sour","x":83,"y":1.07},{"c":"sour","x":93,"y":1.046},{"c":"sour","x":103,"y":0.998},{"c":"sour","x":114,"y":0.973},{"c":"sour","x":124,"y":0.937},{"c":"sour","x":134,"y":0.985},{"c":"sour","x":145,"y":0.937},{"c":"sour","x":155,"y":0.9},{"c":"sour","x":165,"y":0.888},{"c":"sour","x":176,"y":0.864},{"c":"sour","x":186,"y":0.84},{"c":"sour","x":196,"y":0.816},{"c":"sour","x":207,"y":0.84},{"c":"sour","x":217,"y":0.791},{"c":"sour","x":228,"y":0.767},{"c":"sour","x":238,"y":0.791},{"c":"sour","x":248,"y":0.816},{"c":"sour","x":259,"y":0.84},{"c":"sour","x":269,"y":0.852},{"c":"sour","x":279,"y":0.816},{"c":"sour","x":290,"y":0.84},{"c":"sour","x":300,"y":0.888},{"c":"sour","x":310,"y":0.913},{"c":"sour","x":321,"y":0.937},{"c":"sour","x":326,"y":1.131},{"c":"sour","x":331,"y":1.252},{"c":"sour","x":336,"y":1.228},{"c":"sour","x":341,"y":1.471},{"c":"sour","x":346,"y":1.471},{"c":"sour","x":352,"y":1.277},
{"c":"bitter","x":0,"y":1.155},{"c":"bitter","x":3,"y":1.034},{"c":"bitter","x":10,"y":0.985},{"c":"bitter","x":21,"y":0.998},{"c":"bitter","x":31,"y":0.937},{"c":"bitter","x":41,"y":0.961},{"c":"bitter","x":52,"y":0.913},{"c":"bitter","x":62,"y":0.937},{"c":"bitter","x":72,"y":0.888},{"c":"bitter","x":83,"y":0.913},{"c":"bitter","x":93,"y":0.864},{"c":"bitter","x":103,"y":0.84},{"c":"bitter","x":114,"y":0.852},{"c":"bitter","x":124,"y":0.888},{"c":"bitter","x":134,"y":0.913},{"c":"bitter","x":145,"y":0.937},{"c":"bitter","x":155,"y":0.888},{"c":"bitter","x":165,"y":0.84},{"c":"bitter","x":176,"y":0.816},{"c":"bitter","x":186,"y":0.803},{"c":"bitter","x":196,"y":0.767},{"c":"bitter","x":207,"y":0.731},{"c":"bitter","x":217,"y":0.767},{"c":"bitter","x":228,"y":0.791},{"c":"bitter","x":238,"y":0.755},{"c":"bitter","x":248,"y":0.743},{"c":"bitter","x":259,"y":0.731},{"c":"bitter","x":269,"y":0.743},{"c":"bitter","x":279,"y":0.718},{"c":"bitter","x":290,"y":0.743},{"c":"bitter","x":300,"y":0.767},{"c":"bitter","x":310,"y":0.743},{"c":"bitter","x":321,"y":0.767},{"c":"bitter","x":331,"y":0.84},{"c":"bitter","x":341,"y":0.888},{"c":"bitter","x":352,"y":0.937},{"c":"bitter","x":357,"y":1.374},{"c":"bitter","x":362,"y":1.495},{"c":"bitter","x":367,"y":1.252},{"c":"bitter","x":372,"y":1.18},{"c":"bitter","x":377,"y":1.374},{"c":"bitter","x":383,"y":1.131},{"c":"bitter","x":388,"y":1.252},{"c":"bitter","x":393,"y":1.277},{"c":"bitter","x":400,"y":1.228},{"c":"bitter","x":408,"y":1.18},{"c":"bitter","x":414,"y":1.058},{"c":"bitter","x":419,"y":0.913},{"c":"bitter","x":424,"y":0.767},{"c":"bitter","x":429,"y":0.84},{"c":"bitter","x":434,"y":0.888},{"c":"bitter","x":440,"y":0.816},{"c":"bitter","x":445,"y":0.791},{"c":"bitter","x":455,"y":0.779},{"c":"bitter","x":476,"y":0.767},{"c":"bitter","x":496,"y":0.718},{"c":"bitter","x":502,"y":0.888}
],
"r5": [
{"c":"sour","g":"a","x":290,"lo":0.82,"hi":0.86},{"c":"sour","g":"a","x":310,"lo":0.87,"hi":0.96},{"c":"sour","g":"a","x":321,"lo":0.9,"hi":1.02},{"c":"sour","g":"a","x":341,"lo":1.38,"hi":1.6},{"c":"sour","g":"a","x":346,"lo":1.35,"hi":1.62},
{"c":"bitter","g":"b","x":362,"lo":1.35,"hi":1.55},{"c":"bitter","g":"b","x":377,"lo":1.2,"hi":1.42},{"c":"bitter","g":"b","x":393,"lo":1.18,"hi":1.33},{"c":"bitter","g":"b","x":408,"lo":1.1,"hi":1.25},{"c":"bitter","g":"b","x":419,"lo":0.86,"hi":0.97},
{"c":"bitter","g":"c","x":445,"lo":0.76,"hi":0.82},{"c":"bitter","g":"c","x":476,"lo":0.74,"hi":0.8},{"c":"bitter","g":"c","x":496,"lo":0.7,"hi":0.77},
{"c":"control","g":"d","x":259,"lo":0.49,"hi":0.53},{"c":"control","g":"d","x":279,"lo":0.485,"hi":0.56}
],
"p6": [
{"c":"control","x":0,"y":0.05},{"c":"control","x":3,"y":0.039},{"c":"control","x":8,"y":0.048},{"c":"control","x":19,"y":0.05},{"c":"control","x":24,"y":0.045},{"c":"control","x":34,"y":0.049},{"c":"control","x":44,"y":0.053},{"c":"control","x":50,"y":0.084},{"c":"control","x":55,"y":0.098},{"c":"control","x":60,"y":0.078},{"c":"control","x":65,"y":0.056},{"c":"control","x":70,"y":0.059},{"c":"control","x":81,"y":0.05},{"c":"control","x":91,"y":0.045},{"c":"control","x":101,"y":0.053},{"c":"control","x":112,"y":0.05},{"c":"control","x":122,"y":0.045},{"c":"control","x":132,"y":0.05},{"c":"control","x":143,"y":0.053},{"c":"control","x":153,"y":0.056},{"c":"control","x":163,"y":0.067},{"c":"control","x":174,"y":0.073},{"c":"control","x":184,"y":0.062},{"c":"control","x":194,"y":0.064},{"c":"control","x":205,"y":0.06},{"c":"control","x":215,"y":0.062},{"c":"control","x":225,"y":0.064},{"c":"control","x":236,"y":0.067},{"c":"control","x":241,"y":0.076},{"c":"control","x":251,"y":0.09},{"c":"control","x":262,"y":0.084},{"c":"control","x":272,"y":0.087},{"c":"control","x":282,"y":0.084},{"c":"control","x":287,"y":0.076},{"c":"control","x":293,"y":0.05},{"c":"control","x":298,"y":0.034},{"c":"control","x":308,"y":0.031},{"c":"control","x":318,"y":0.036},{"c":"control","x":329,"y":0.045},{"c":"control","x":339,"y":0.042},{"c":"control","x":350,"y":0.039},{"c":"control","x":360,"y":0.042},{"c":"control","x":370,"y":0.045},{"c":"control","x":381,"y":0.039},{"c":"control","x":386,"y":0.025},{"c":"control","x":391,"y":0.022},{"c":"control","x":401,"y":0.036},{"c":"control","x":412,"y":0.048},{"c":"control","x":422,"y":0.062},{"c":"control","x":427,"y":0.084},{"c":"control","x":432,"y":0.056},{"c":"control","x":443,"y":0.036},{"c":"control","x":453,"y":0.028},{"c":"control","x":463,"y":0.034},{"c":"control","x":474,"y":0.031},{"c":"control","x":484,"y":0.039},{"c":"control","x":494,"y":0.028},{"c":"control","x":505,"y":0.034},{"c":"control","x":515,"y":0.031},{"c":"control","x":520,"y":0.022},{"c":"control","x":525,"y":0.036},{"c":"control","x":530,"y":0.076},{"c":"control","x":536,"y":0.087},{"c":"control","x":546,"y":0.09},{"c":"control","x":557,"y":0.092},{"c":"control","x":567,"y":0.095},{"c":"control","x":577,"y":0.092},{"c":"control","x":587,"y":0.09},{"c":"control","x":593,"y":0.045},{"c":"control","x":596,"y":0.056},
{"c":"sweet","x":0,"y":0.112},{"c":"sweet","x":5,"y":0.095},{"c":"sweet","x":13,"y":0.104},{"c":"sweet","x":24,"y":0.106},{"c":"sweet","x":34,"y":0.095},{"c":"sweet","x":44,"y":0.098},{"c":"sweet","x":55,"y":0.106},{"c":"sweet","x":65,"y":0.09},{"c":"sweet","x":75,"y":0.084},{"c":"sweet","x":86,"y":0.104},{"c":"sweet","x":93,"y":0.112},{"c":"sweet","x":98,"y":0.095},{"c":"sweet","x":107,"y":0.078},{"c":"sweet","x":112,"y":0.07},{"c":"sweet","x":117,"y":0.078},{"c":"sweet","x":124,"y":0.104},{"c":"sweet","x":130,"y":0.126},{"c":"sweet","x":138,"y":0.132},{"c":"sweet","x":143,"y":0.12},{"c":"sweet","x":153,"y":0.12},{"c":"sweet","x":160,"y":0.106},{"c":"sweet","x":169,"y":0.092},{"c":"sweet","x":179,"y":0.084},{"c":"sweet","x":189,"y":0.087},{"c":"sweet","x":200,"y":0.092},{"c":"sweet","x":210,"y":0.098},{"c":"sweet","x":220,"y":0.104},{"c":"sweet","x":231,"y":0.098},{"c":"sweet","x":241,"y":0.101},{"c":"sweet","x":251,"y":0.112},{"c":"sweet","x":262,"y":0.118},{"c":"sweet","x":272,"y":0.12},{"c":"sweet","x":282,"y":0.112},{"c":"sweet","x":293,"y":0.126},{"c":"sweet","x":298,"y":0.119},{"c":"sweet","x":305,"y":0.112},{"c":"sweet","x":313,"y":0.098},{"c":"sweet","x":324,"y":0.104},{"c":"sweet","x":334,"y":0.112},{"c":"sweet","x":344,"y":0.101},{"c":"sweet","x":355,"y":0.118},{"c":"sweet","x":362,"y":0.123},{"c":"sweet","x":370,"y":0.112},{"c":"sweet","x":381,"y":0.101},{"c":"sweet","x":386,"y":0.084},{"c":"sweet","x":391,"y":0.056},{"c":"sweet","x":396,"y":0.064},{"c":"sweet","x":401,"y":0.09},{"c":"sweet","x":412,"y":0.095},{"c":"sweet","x":422,"y":0.092},{"c":"sweet","x":430,"y":0.098},{"c":"sweet","x":437,"y":0.078},{"c":"sweet","x":443,"y":0.07},{"c":"sweet","x":448,"y":0.09},{"c":"sweet","x":458,"y":0.095},{"c":"sweet","x":468,"y":0.101},
{"c":"sour","x":0,"y":0.132},{"c":"sour","x":3,"y":0.112},{"c":"sour","x":8,"y":0.106},{"c":"sour","x":19,"y":0.112},{"c":"sour","x":29,"y":0.118},{"c":"sour","x":34,"y":0.129},{"c":"sour","x":39,"y":0.14},{"c":"sour","x":44,"y":0.126},{"c":"sour","x":50,"y":0.129},{"c":"sour","x":55,"y":0.12},{"c":"sour","x":65,"y":0.112},{"c":"sour","x":75,"y":0.109},{"c":"sour","x":86,"y":0.112},{"c":"sour","x":91,"y":0.095},{"c":"sour","x":101,"y":0.067},{"c":"sour","x":112,"y":0.056},{"c":"sour","x":122,"y":0.053},{"c":"sour","x":132,"y":0.059},{"c":"sour","x":143,"y":0.07},{"c":"sour","x":153,"y":0.076},{"c":"sour","x":163,"y":0.084},{"c":"sour","x":174,"y":0.09},{"c":"sour","x":184,"y":0.078},{"c":"sour","x":194,"y":0.07},{"c":"sour","x":205,"y":0.078},{"c":"sour","x":215,"y":0.076},{"c":"sour","x":225,"y":0.081},{"c":"sour","x":236,"y":0.078},{"c":"sour","x":246,"y":0.081},{"c":"sour","x":257,"y":0.084},{"c":"sour","x":267,"y":0.078},{"c":"sour","x":277,"y":0.084},{"c":"sour","x":287,"y":0.081},{"c":"sour","x":293,"y":0.092},{"c":"sour","x":298,"y":0.09},{"c":"sour","x":308,"y":0.081},{"c":"sour","x":313,"y":0.07},{"c":"sour","x":318,"y":0.064},{"c":"sour","x":329,"y":0.059},{"c":"sour","x":334,"y":0.053},{"c":"sour","x":339,"y":0.045},{"c":"sour","x":344,"y":0.039},
{"c":"bitter","x":0,"y":0.076},{"c":"bitter","x":3,"y":0.104},{"c":"bitter","x":8,"y":0.098},{"c":"bitter","x":19,"y":0.104},{"c":"bitter","x":29,"y":0.095},{"c":"bitter","x":39,"y":0.09},{"c":"bitter","x":50,"y":0.095},{"c":"bitter","x":60,"y":0.092},{"c":"bitter","x":70,"y":0.098},{"c":"bitter","x":81,"y":0.084},{"c":"bitter","x":91,"y":0.087},{"c":"bitter","x":101,"y":0.084},{"c":"bitter","x":112,"y":0.076},{"c":"bitter","x":122,"y":0.087},{"c":"bitter","x":132,"y":0.09},{"c":"bitter","x":143,"y":0.106},{"c":"bitter","x":148,"y":0.098},{"c":"bitter","x":153,"y":0.084},{"c":"bitter","x":163,"y":0.087},{"c":"bitter","x":174,"y":0.081},{"c":"bitter","x":184,"y":0.076},{"c":"bitter","x":194,"y":0.07},{"c":"bitter","x":205,"y":0.067},{"c":"bitter","x":215,"y":0.064},{"c":"bitter","x":225,"y":0.062},{"c":"bitter","x":236,"y":0.06},{"c":"bitter","x":246,"y":0.059},{"c":"bitter","x":257,"y":0.062},{"c":"bitter","x":267,"y":0.059},{"c":"bitter","x":277,"y":0.062},{"c":"bitter","x":287,"y":0.057},{"c":"bitter","x":298,"y":0.059},{"c":"bitter","x":308,"y":0.062},{"c":"bitter","x":318,"y":0.067},{"c":"bitter","x":329,"y":0.078},{"c":"bitter","x":339,"y":0.09},{"c":"bitter","x":350,"y":0.098},{"c":"bitter","x":360,"y":0.112},{"c":"bitter","x":367,"y":0.123},{"c":"bitter","x":373,"y":0.129},{"c":"bitter","x":381,"y":0.123},{"c":"bitter","x":386,"y":0.084},{"c":"bitter","x":391,"y":0.034},{"c":"bitter","x":396,"y":0.022},{"c":"bitter","x":406,"y":0.02},{"c":"bitter","x":417,"y":0.017},{"c":"bitter","x":427,"y":0.021},{"c":"bitter","x":437,"y":0.025},{"c":"bitter","x":448,"y":0.028},{"c":"bitter","x":458,"y":0.029},{"c":"bitter","x":468,"y":0.029},{"c":"bitter","x":479,"y":0.028},{"c":"bitter","x":489,"y":0.025},{"c":"bitter","x":500,"y":0.028},{"c":"bitter","x":503,"y":0.062}
],
"r6": [
{"c":"control","g":"a","x":241,"lo":0.074,"hi":0.08},{"c":"control","g":"a","x":251,"lo":0.085,"hi":0.1},{"c":"control","g":"a","x":262,"lo":0.08,"hi":0.092},{"c":"control","g":"a","x":272,"lo":0.083,"hi":0.09},
{"c":"bitter","g":"b","x":391,"lo":0.015,"hi":0.036},{"c":"bitter","g":"b","x":406,"lo":0.013,"hi":0.025},{"c":"bitter","g":"b","x":417,"lo":0.012,"hi":0.022},{"c":"bitter","g":"b","x":427,"lo":0.015,"hi":0.024},
{"c":"bitter","g":"c","x":448,"lo":0.024,"hi":0.033},{"c":"bitter","g":"c","x":479,"lo":0.023,"hi":0.031},
{"c":"sour","g":"d","x":293,"lo":0.084,"hi":0.096},{"c":"sour","g":"d","x":298,"lo":0.082,"hi":0.094},
{"c":"sweet","g":"e","x":130,"lo":0.118,"hi":0.132},{"c":"sweet","g":"e","x":138,"lo":0.125,"hi":0.138},{"c":"sweet","g":"e","x":143,"lo":0.114,"hi":0.126}
]
},
"columns": 3,
"bounds": "flush",
"spacing": {"row": 51, "column": 54},
"resolve": {"scale": {"color": "independent", "fill": "independent"}, "legend": {"color": "independent", "fill": "independent"}},
"concat": [
{"width": 203, "height": 183, "title": "Left eyebrow elevation - subject 1",
 "encoding": {"x": {"field": "x", "type": "quantitative", "scale": {"domain": [-22, 742], "nice": false, "zero": false}, "axis": {"values": [0, 200, 400, 600], "title": null}}},
 "layer": [
  {"data": {"name": "r1"}, "mark": {"type": "area", "opacity": 0.45, "clip": true}, "encoding": {"y": {"field": "lo", "type": "quantitative", "scale": {"domain": [1.76, 4.92], "nice": false, "zero": false}, "axis": {"values": [2, 2.5, 3, 3.5, 4, 4.5], "format": ".1f", "title": null}}, "y2": {"field": "hi"}, "detail": {"field": "g"}, "fill": {"field": "c", "type": "nominal", "scale": {"domain": ["sweet", "sour", "bitter", "control"], "range": ["#e0484e", "#d9b308", "#8c3b91", "#2b6196"]}, "legend": null}}},
  {"data": {"name": "p1"}, "mark": {"type": "line", "strokeWidth": 1.3, "clip": true}, "encoding": {"y": {"field": "y", "type": "quantitative", "scale": {"domain": [1.76, 4.92], "nice": false, "zero": false}, "axis": {"values": [2, 2.5, 3, 3.5, 4, 4.5], "format": ".1f", "title": null}}, "color": {"field": "c", "type": "nominal", "scale": {"domain": ["control", "sweet", "sour", "bitter"], "range": ["#2b6196", "#e0484e", "#d9b308", "#8c3b91"]}, "legend": {"title": null}}}}
 ]},
{"width": 203, "height": 183, "title": "Lower lip elevation - subject 1",
 "encoding": {"x": {"field": "x", "type": "quantitative", "scale": {"domain": [-22, 742], "nice": false, "zero": false}, "axis": {"values": [0, 200, 400, 600], "title": null}}},
 "layer": [
  {"data": {"name": "r2"}, "mark": {"type": "area", "opacity": 0.45, "clip": true}, "encoding": {"y": {"field": "lo", "type": "quantitative", "scale": {"domain": [0.254, 1.885], "nice": false, "zero": false}, "axis": {"values": [0.5, 0.75, 1, 1.25, 1.5, 1.75], "format": ".2f", "title": null}}, "y2": {"field": "hi"}, "detail": {"field": "g"}, "fill": {"field": "c", "type": "nominal", "scale": {"domain": ["sweet", "sour", "bitter", "control"], "range": ["#e0484e", "#d9b308", "#8c3b91", "#2b6196"]}, "legend": null}}},
  {"data": {"name": "p2"}, "mark": {"type": "line", "strokeWidth": 1.3, "clip": true}, "encoding": {"y": {"field": "y", "type": "quantitative", "scale": {"domain": [0.254, 1.885], "nice": false, "zero": false}, "axis": {"values": [0.5, 0.75, 1, 1.25, 1.5, 1.75], "format": ".2f", "title": null}}, "color": {"field": "c", "type": "nominal", "scale": {"domain": ["control", "sweet", "sour", "bitter"], "range": ["#2b6196", "#e0484e", "#d9b308", "#8c3b91"]}, "legend": {"title": null}}}}
 ]},
{"width": 203, "height": 183, "title": "Right palpebral aperture - subject 1",
 "encoding": {"x": {"field": "x", "type": "quantitative", "scale": {"domain": [-22, 742], "nice": false, "zero": false}, "axis": {"values": [0, 200, 400, 600], "title": null}}},
 "layer": [
  {"data": {"name": "r3"}, "mark": {"type": "area", "opacity": 0.35, "clip": true}, "encoding": {"y": {"field": "lo", "type": "quantitative", "scale": {"domain": [-0.005, 0.254], "nice": false, "zero": false}, "axis": {"values": [0, 0.05, 0.1, 0.15, 0.2, 0.25], "format": ".2f", "title": null}}, "y2": {"field": "hi"}, "detail": {"field": "g"}, "fill": {"field": "c", "type": "nominal", "scale": {"domain": ["sweet", "sour", "bitter", "control"], "range": ["#e0484e", "#d9b308", "#8c3b91", "#2b6196"]}, "legend": null}}},
  {"data": {"name": "p3"}, "mark": {"type": "line", "strokeWidth": 1.3, "clip": true}, "encoding": {"y": {"field": "y", "type": "quantitative", "scale": {"domain": [-0.005, 0.254], "nice": false, "zero": false}, "axis": {"values": [0, 0.05, 0.1, 0.15, 0.2, 0.25], "format": ".2f", "title": null}}, "color": {"field": "c", "type": "nominal", "scale": {"domain": ["control", "sweet", "sour", "bitter"], "range": ["#2b6196", "#e0484e", "#d9b308", "#8c3b91"]}, "legend": {"title": null}}}}
 ]},
{"width": 203, "height": 183, "title": "Left eyebrow elevation - subject 2",
 "encoding": {"x": {"field": "x", "type": "quantitative", "scale": {"domain": [-18, 613], "nice": false, "zero": false}, "axis": {"values": [0, 100, 200, 300, 400, 500, 600], "title": "Frames"}}},
 "layer": [
  {"data": {"name": "r4"}, "mark": {"type": "area", "opacity": 0.45, "clip": true}, "encoding": {"y": {"field": "lo", "type": "quantitative", "scale": {"domain": [1.5, 5.13], "nice": false, "zero": false}, "axis": {"values": [2, 3, 4, 5], "format": "d", "title": null}}, "y2": {"field": "hi"}, "detail": {"field": "g"}, "fill": {"field": "c", "type": "nominal", "scale": {"domain": ["sweet", "sour", "bitter", "control"], "range": ["#e0484e", "#d9b308", "#8c3b91", "#2b6196"]}, "legend": null}}},
  {"data": {"name": "p4"}, "mark": {"type": "line", "strokeWidth": 1.3, "clip": true}, "encoding": {"y": {"field": "y", "type": "quantitative", "scale": {"domain": [1.5, 5.13], "nice": false, "zero": false}, "axis": {"values": [2, 3, 4, 5], "format": "d", "title": null}}, "color": {"field": "c", "type": "nominal", "scale": {"domain": ["control", "sweet", "sour", "bitter"], "range": ["#2b6196", "#e0484e", "#d9b308", "#8c3b91"]}, "legend": {"title": null}}}}
 ]},
{"width": 203, "height": 183, "title": "Lower lip elevation - subject 2",
 "encoding": {"x": {"field": "x", "type": "quantitative", "scale": {"domain": [-18, 613], "nice": false, "zero": false}, "axis": {"values": [0, 100, 200, 300, 400, 500, 600], "title": "Frames"}}},
 "layer": [
  {"data": {"name": "r5"}, "mark": {"type": "area", "opacity": 0.45, "clip": true}, "encoding": {"y": {"field": "lo", "type": "quantitative", "scale": {"domain": [0.383, 1.714], "nice": false, "zero": false}, "axis": {"values": [0.5, 0.75, 1, 1.25, 1.5], "format": ".2f", "title": null}}, "y2": {"field": "hi"}, "detail": {"field": "g"}, "fill": {"field": "c", "type": "nominal", "scale": {"domain": ["sweet", "sour", "bitter", "control"], "range": ["#e0484e", "#d9b308", "#8c3b91", "#2b6196"]}, "legend": null}}},
  {"data": {"name": "p5"}, "mark": {"type": "line", "strokeWidth": 1.3, "clip": true}, "encoding": {"y": {"field": "y", "type": "quantitative", "scale": {"domain": [0.383, 1.714], "nice": false, "zero": false}, "axis": {"values": [0.5, 0.75, 1, 1.25, 1.5], "format": ".2f", "title": null}}, "color": {"field": "c", "type": "nominal", "scale": {"domain": ["control", "sweet", "sour", "bitter"], "range": ["#2b6196", "#e0484e", "#d9b308", "#8c3b91"]}, "legend": {"title": null}}}}
 ]},
{"width": 203, "height": 183, "title": "Right palpebral aperture - subject 2",
 "encoding": {"x": {"field": "x", "type": "quantitative", "scale": {"domain": [-18, 613], "nice": false, "zero": false}, "axis": {"values": [0, 100, 200, 300, 400, 500, 600], "title": "Frames"}}},
 "layer": [
  {"data": {"name": "r6"}, "mark": {"type": "area", "opacity": 0.45, "clip": true}, "encoding": {"y": {"field": "lo", "type": "quantitative", "scale": {"domain": [-0.003, 0.152], "nice": false, "zero": false}, "axis": {"values": [0, 0.05, 0.1, 0.15], "format": ".2f", "title": null}}, "y2": {"field": "hi"}, "detail": {"field": "g"}, "fill": {"field": "c", "type": "nominal", "scale": {"domain": ["sweet", "sour", "bitter", "control"], "range": ["#e0484e", "#d9b308", "#8c3b91", "#2b6196"]}, "legend": null}}},
  {"data": {"name": "p6"}, "mark": {"type": "line", "strokeWidth": 1.3, "clip": true}, "encoding": {"y": {"field": "y", "type": "quantitative", "scale": {"domain": [-0.003, 0.152], "nice": false, "zero": false}, "axis": {"values": [0, 0.05, 0.1, 0.15], "format": ".2f", "title": null}}, "color": {"field": "c", "type": "nominal", "scale": {"domain": ["control", "sweet", "sour", "bitter"], "range": ["#2b6196", "#e0484e", "#d9b308", "#8c3b91"]}, "legend": {"title": null}}}}
 ]}
]
}
